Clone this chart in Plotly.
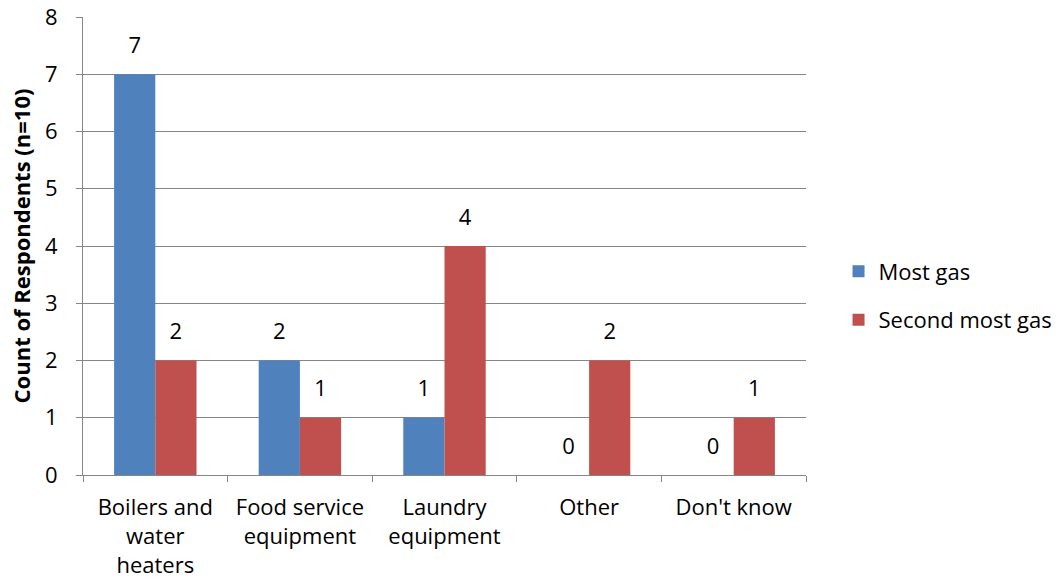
import plotly.graph_objects as go

categories = ["Boilers and<br>water<br>heaters", "Food service<br>equipment",
              "Laundry<br>equipment", "Other", "Don't know"]
most_gas = [7, 2, 1, 0, 0]
second_most_gas = [2, 1, 4, 2, 1]
y_ticks = [0, 1, 2, 3, 4, 5, 6, 7, 8]

FONT = "Open Sans"
SIZE = 22
GRID = "#868686"
BLUE = "#4F81BD"
RED = "#C0504D"
GAP = 0.43

fig = go.Figure()
for name, vals, color, grp in [("Most gas", most_gas, BLUE, "a"),
                               ("Second most gas", second_most_gas, RED, "b")]:
    fig.add_trace(go.Bar(
        name=name, x=categories, y=vals, offsetgroup=grp,
        marker=dict(color=color, line=dict(width=0)),
        legendgroup=grp,
    ))

# value labels floated above each bar, aligned with the bar groups
for vals, grp in [(most_gas, "a"), (second_most_gas, "b")]:
    fig.add_trace(go.Scatter(
        x=categories, y=vals, offsetgroup=grp, mode="markers+text",
        text=[str(v) for v in vals], textposition="top center",
        textfont=dict(family=FONT, size=SIZE, color="black"),
        marker=dict(size=24, opacity=0), cliponaxis=False,
        showlegend=False, hoverinfo="skip",
    ))

fig.update_layout(
    width=1056, height=588,
    margin=dict(l=83, r=250, t=17, b=113, autoexpand=False),
    paper_bgcolor="white", plot_bgcolor="white",
    font=dict(family=FONT, size=SIZE, color="black"),
    barmode="group", bargap=GAP, bargroupgap=0,
    scattermode="group", scattergap=GAP,
    showlegend=True,
    legend=dict(x=1.045, y=0.391, xanchor="left", yanchor="middle",
                font=dict(family=FONT, size=SIZE), tracegroupgap=17,
                bgcolor="rgba(0,0,0,0)"),
)
fig.update_xaxes(
    automargin=False,
    showline=True, linecolor=GRID, linewidth=1,
    ticks="outside", ticklen=6, tickcolor=GRID, tickson="boundaries",
    showgrid=False, tickfont=dict(family=FONT, size=SIZE), ticklabelstandoff=13,
)
fig.update_yaxes(
    automargin=False,
    range=[0, 8], tickvals=y_ticks, showline=True, linecolor=GRID, linewidth=1,
    ticks="outside", ticklen=6, tickcolor=GRID,
    showgrid=True, gridcolor=GRID, gridwidth=1, zeroline=False,
    tickfont=dict(family=FONT, size=SIZE), ticklabelstandoff=14,
    title=dict(text="<b>Count of Respondents (n=10)</b>",
               font=dict(family=FONT, size=22), standoff=8),
)

fig.write_html("out.html")
